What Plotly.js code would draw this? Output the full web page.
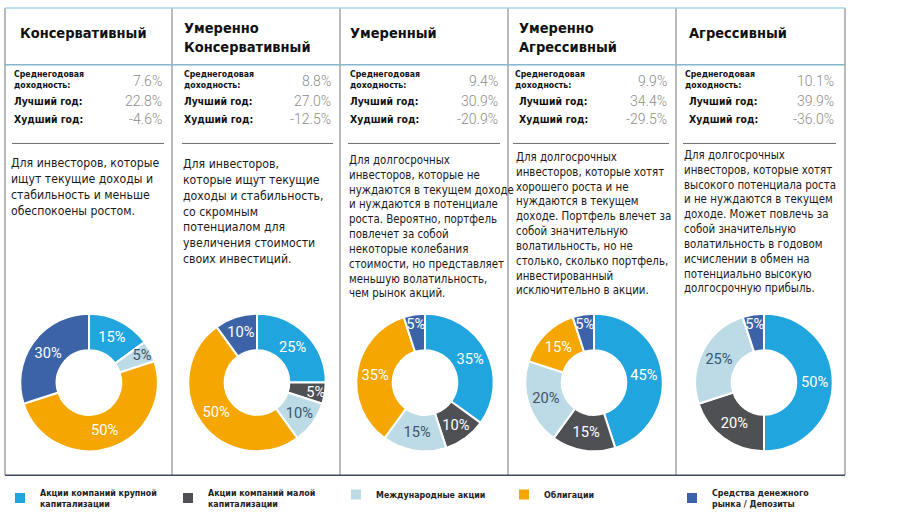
<!DOCTYPE html>
<html><head><meta charset="utf-8">
<script src="https://cdn.plot.ly/plotly-3.0.1.min.js"></script>
<style>html,body{margin:0;padding:0;background:#fff}#chart{width:900px;height:516px}</style>
</head><body><div id="chart"></div>
<script>
// ---- data ----
const assetClasses = ['Акции компаний крупной<br>капитализации', 'Акции компаний малой<br>капитализации', 'Международные акции', 'Облигации', 'Средства денежного<br>рынка / Депозиты'];
const portfolioNames = ['Консервативный', 'Умеренно<br>Консервативный', 'Умеренный', 'Умеренно<br>Агрессивный', 'Агрессивный'];
const conservative = [15, 0, 5, 50, 30];
const modConservative = [25, 5, 10, 50, 10];
const moderate = [35, 10, 15, 35, 5];
const modAggressive = [45, 15, 20, 15, 5];
const aggressive = [50, 20, 25, 0, 5];
const avgReturn = ['7.6%', '8.8%', '9.4%', '9.9%', '10.1%'];
const bestYear = ['22.8%', '27.0%', '30.9%', '34.4%', '39.9%'];
const worstYear = ['-4.6%', '-12.5%', '-20.9%', '-29.5%', '-36.0%'];
const statLabels = ['Среднегодовая<br>доходность:', 'Лучший год:', 'Худший год:'];
const descriptions = [
  'Для инвесторов, которые<br>ищут текущие доходы и<br>стабильность и меньше<br>обеспокоены ростом.',
  'Для инвесторов,<br>которые ищут текущие<br>доходы и стабильность,<br>со скромным<br>потенциалом для<br>увеличения стоимости<br>своих инвестиций.',
  'Для долгосрочных<br>инвесторов, которые не<br>нуждаются в текущем доходе<br>и нуждаются в потенциале<br>роста. Вероятно, портфель<br>повлечет за собой<br>некоторые колебания<br>стоимости, но представляет<br>меньшую волатильность,<br>чем рынок акций.',
  'Для долгосрочных<br>инвесторов, которые хотят<br>хорошего роста и не<br>нуждаются в текущем<br>доходе. Портфель влечет за<br>собой значительную<br>волатильность, но не<br>столько, сколько портфель,<br>инвестированный<br>исключительно в акции.',
  'Для долгосрочных<br>инвесторов, которые хотят<br>высокого потенциала роста<br>и не нуждаются в текущем<br>доходе. Может повлечь за<br>собой значительную<br>волатильность в годовом<br>исчислении в обмен на<br>потенциально высокую<br>долгосрочную прибыль.'
];
const allocations = [conservative, modConservative, moderate, modAggressive, aggressive];

// ---- styling / layout ----
const W = 900, H = 516;
const sliceColors = ['#21a5df', '#4f5054', '#bcdbe7', '#f5a600', '#3c63a8'];
const sliceTextColors = ['#ffffff', '#ffffff', '#405468', '#ffffff', '#ffffff'];
const pieCX = [89, 257, 425, 594, 764], pieCY = 384, pieR = 69;
const colLabelX = [12, 182, 348, 513, 683];
const colValueX = [164, 333, 500, 669, 836];
const headX = [18, 182, 348, 517, 687];
const descX = [10, 182, 348, 515, 683];
const descSize = [12.2, 12.2, 11.4, 11.4, 11.4];
const descTop = [156, 157, 153, 150, 148];
const sepX = [5, 172, 340, 508, 676, 845];
const px = x => x / W, py = y => 1 - y / H;
const BODY = '"DejaVu Sans Condensed", "DejaVu Sans", sans-serif';

const traces = allocations.map((vals, i) => ({
  type: 'pie', labels: assetClasses, values: vals, sort: false, direction: 'clockwise', rotation: 0,
  hole: 0.47, text: vals.map(v => v ? v + '%' : ''), textinfo: 'text', textposition: 'inside',
  insidetextorientation: 'horizontal',
  insidetextfont: {family: 'Roboto, sans-serif', size: 15, color: sliceTextColors},
  marker: {colors: sliceColors, line: {color: '#ffffff', width: 2}},
  domain: {x: [px(pieCX[i] - pieR), px(pieCX[i] + pieR)], y: [py(pieCY + pieR), py(pieCY - pieR)]},
  automargin: false, showlegend: true, hoverinfo: 'label+percent'
}));

const ann = [];
const shapes = [];
for (let i = 0; i < 5; i++) {
  const twoLine = portfolioNames[i].includes('<br>');
  ann.push({xref: 'paper', yref: 'paper', x: px(headX[i]), y: py(twoLine ? 38 : 33), xanchor: 'left', yanchor: 'middle',
    align: 'left', showarrow: false, text: '<b>' + portfolioNames[i] + '</b>',
    font: {family: BODY, size: 14.5, color: '#111'}});
  ann.push({xref: 'paper', yref: 'paper', x: px(colLabelX[i]), y: py(80), xanchor: 'left', yanchor: 'middle',
    align: 'left', showarrow: false, text: '<b>' + statLabels[0] + '</b>', font: {family: BODY, size: 8.7, color: '#111'}});
  const ind = i >= 3 ? 4 : 0;
  ann.push({xref: 'paper', yref: 'paper', x: px(colLabelX[i] + ind), y: py(101), xanchor: 'left', yanchor: 'middle',
    align: 'left', showarrow: false, text: '<b>' + statLabels[1] + '</b>', font: {family: BODY, size: 10.3, color: '#111'}});
  ann.push({xref: 'paper', yref: 'paper', x: px(colLabelX[i] + ind), y: py(119), xanchor: 'left', yanchor: 'middle',
    align: 'left', showarrow: false, text: '<b>' + statLabels[2] + '</b>', font: {family: BODY, size: 10.3, color: '#111'}});
  [[avgReturn, 81], [bestYear, 101], [worstYear, 119]].forEach(([arr, yy]) => {
    ann.push({xref: 'paper', yref: 'paper', x: px(colValueX[i]), y: py(yy), xanchor: 'right', yanchor: 'middle',
      showarrow: false, text: arr[i], font: {family: 'Roboto, sans-serif', size: 14, weight: 300, color: '#8c8c8c'}});
  });
  ann.push({xref: 'paper', yref: 'paper', x: px(descX[i]), y: py(descTop[i]), xanchor: 'left', yanchor: 'top',
    align: 'left', showarrow: false, text: descriptions[i], borderpad: 0,
    font: {family: BODY, size: descSize[i], color: '#1a1a1a'}});
  shapes.push({type: 'line', xref: 'paper', yref: 'paper', x0: px(colLabelX[i]), x1: px(colValueX[i]),
    y0: py(144), y1: py(144), line: {color: '#6d6d6d', width: 1}});
}
sepX.forEach(x => shapes.push({type: 'line', xref: 'paper', yref: 'paper', x0: px(x), x1: px(x), y0: py(8), y1: py(477),
  line: {color: '#a3a3a3', width: 1.5}}));
shapes.push({type: 'line', xref: 'paper', yref: 'paper', x0: px(5), x1: px(845), y0: py(8), y1: py(8), line: {color: '#a9d6e6', width: 1.5}});
shapes.push({type: 'line', xref: 'paper', yref: 'paper', x0: px(5), x1: px(845), y0: py(65), y1: py(65), line: {color: '#86b6cc', width: 1.5}});
shapes.push({type: 'line', xref: 'paper', yref: 'paper', x0: px(5), x1: px(845), y0: py(477), y1: py(477), line: {color: '#3e4a58', width: 1.5}});

const layout = {
  width: W, height: H, margin: {l: 0, r: 0, t: 0, b: 0}, paper_bgcolor: '#fff', plot_bgcolor: '#fff',
  showlegend: true,
  uniformtext: {minsize: 14, mode: 'show'},
  legend: {orientation: 'h', x: 0, y: py(500), xanchor: 'left', yanchor: 'middle', traceorder: 'normal',
    entrywidth: 123, entrywidthmode: 'pixels', itemwidth: 30, itemclick: false,
    font: {family: BODY, size: 8.8, weight: 'bold', color: '#222'}, bgcolor: 'rgba(0,0,0,0)'},
  annotations: ann, shapes: shapes
};
Plotly.newPlot('chart', traces, layout, {staticPlot: true, displayModeBar: false});
</script></body></html>
